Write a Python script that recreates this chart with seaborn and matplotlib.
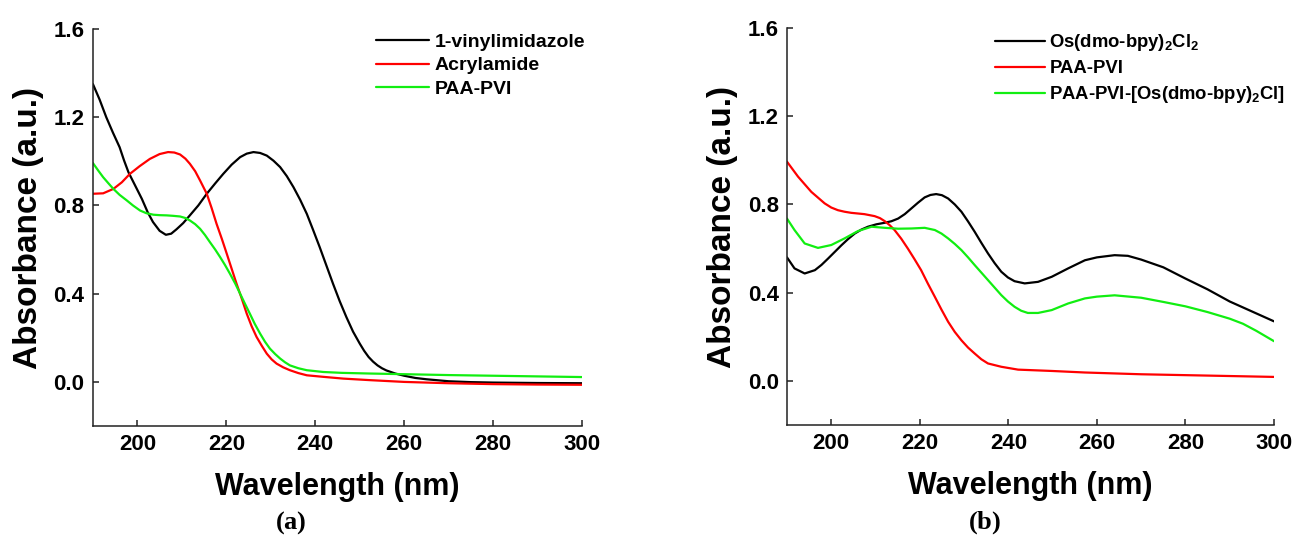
import numpy as np
import pandas as pd
import matplotlib
matplotlib.use("Agg")
import matplotlib.pyplot as plt
import seaborn as sns

# ---------------- data ----------------
# Panel (a)
a_vinyl_x = [190, 191.5, 193, 194.5, 196, 197, 198, 199, 200, 201, 202.3, 203.5, 205, 206.4, 207.6, 208.8,
             210.3, 211.8, 213.7, 215.6, 217.5, 219.3, 221.2, 223.1, 224.6, 226.1, 227.6, 229.1,
             230.6, 232.1, 233.6, 235.1, 236.6, 238.1, 239.5, 241, 242.5, 244, 245.5, 247, 248.5,
             250, 251, 252, 253, 254, 255, 256, 258, 260, 262.5, 265, 270, 275, 280, 290, 300]
a_vinyl_y = [1.35, 1.28, 1.20, 1.13, 1.064, 1.004, 0.95, 0.91, 0.87, 0.83, 0.77, 0.725, 0.685, 0.667,
             0.672, 0.692, 0.72, 0.755, 0.80, 0.853, 0.90, 0.943, 0.985, 1.019, 1.035, 1.042, 1.038,
             1.026, 1.003, 0.974, 0.933, 0.883, 0.826, 0.762, 0.69, 0.611, 0.528, 0.445, 0.366,
             0.294, 0.228, 0.174, 0.141, 0.113, 0.092, 0.075, 0.062, 0.052, 0.038, 0.028, 0.018,
             0.012, 0.003, -0.001, -0.003, -0.005, -0.006]

a_acryl_x = [190, 192.3, 194.6, 196.5, 198.3, 200.5, 202.8, 205, 206.9, 208.3, 209.6, 210.8, 211.8,
             213, 214.1, 215.6, 216.7, 217.8, 219, 220.1, 221.2, 222.3, 223.5, 224.6, 225.7, 226.8,
             228, 229.1, 230.2, 231.3, 232.8, 234.3, 236.2, 238.1, 241.8, 246.3, 252.3, 260, 270,
             280, 290, 300]
a_acryl_y = [0.853, 0.855, 0.875, 0.905, 0.943, 0.978, 1.011, 1.033, 1.042, 1.04, 1.031, 1.012, 0.989,
             0.955, 0.913, 0.853, 0.788, 0.717, 0.648, 0.581, 0.513, 0.445, 0.376, 0.309, 0.252,
             0.204, 0.163, 0.128, 0.102, 0.083, 0.066, 0.053, 0.040, 0.030, 0.023, 0.015, 0.008,
             0.0, -0.006, -0.010, -0.012, -0.013]

a_paapvi_x = [190, 191.2, 192.3, 193.5, 194.6, 196, 197.6, 199, 200.6, 202, 203.6, 205, 206.6, 208,
              209.6, 210.8, 211.8, 213, 214.1, 215.2, 216.3, 217.5, 218.6, 219.7, 220.8, 222, 223.1,
              224.2, 225.3, 226.4, 227.6, 228.7, 229.8, 231, 232.1, 233.2, 234.3, 236.2, 238.1,
              241.8, 246, 252.3, 260, 270, 280, 290, 300]
a_paapvi_y = [0.992, 0.958, 0.928, 0.900, 0.875, 0.848, 0.823, 0.800, 0.777, 0.765, 0.758, 0.756, 0.755,
              0.753, 0.750, 0.743, 0.732, 0.715, 0.694, 0.666, 0.634, 0.600, 0.566, 0.530, 0.491,
              0.446, 0.400, 0.354, 0.309, 0.263, 0.219, 0.182, 0.151, 0.126, 0.106, 0.089, 0.075,
              0.062, 0.053, 0.045, 0.041, 0.038, 0.035, 0.031, 0.028, 0.025, 0.022]

# Panel (b)
b_os_x = [190, 191.7, 194, 196.3, 197.8, 199.3, 200.8, 202.3, 203.8, 205.3, 206.8, 208.3, 210.2, 212.1,
          213.6, 215.1, 216.6, 218.1, 219.6, 221.1, 222.4, 223.7, 225, 226.4, 227.9, 229.4, 230.9,
          232.4, 233.9, 235.4, 236.9, 238.4, 239.9, 241.4, 243.7, 246.7, 249.8, 253.5, 257.3, 260,
          264, 267, 270, 275, 280, 285, 290, 295, 300]
b_os_y = [0.560, 0.510, 0.487, 0.502, 0.526, 0.555, 0.585, 0.615, 0.643, 0.668, 0.686, 0.699, 0.710,
          0.717, 0.724, 0.736, 0.756, 0.782, 0.808, 0.832, 0.843, 0.847, 0.842, 0.827, 0.800, 0.767,
          0.723, 0.676, 0.626, 0.578, 0.534, 0.495, 0.469, 0.452, 0.442, 0.449, 0.472, 0.510,
          0.547, 0.560, 0.570, 0.567, 0.550, 0.515, 0.464, 0.415, 0.360, 0.315, 0.270]

b_paapvi_x = [190, 192.5, 195.5, 198.5, 200, 201.5, 203, 204.5, 206, 207.5, 209.8, 211, 212.1, 213.2,
              214.3, 215.8, 217.3, 218.8, 220.3, 221.8, 223.4, 224.9, 226.4, 227.9, 229.4, 230.9,
              232.4, 233.9, 235.4, 238.4, 242.2, 249.8, 257.3, 270, 280, 290, 300]
b_paapvi_y = [0.994, 0.926, 0.857, 0.805, 0.786, 0.774, 0.767, 0.762, 0.759, 0.756, 0.747, 0.738, 0.724,
              0.706, 0.684, 0.645, 0.600, 0.552, 0.502, 0.442, 0.381, 0.323, 0.268, 0.222, 0.184,
              0.151, 0.124, 0.098, 0.079, 0.064, 0.051, 0.045, 0.038, 0.030, 0.026, 0.022, 0.018]

b_complex_x = [190, 191.7, 194, 197, 200, 203, 206, 209.1, 212.1, 215.1, 218.1, 221.1, 223.4, 224.9,
               226.4, 227.9, 229.4, 230.9, 232.4, 233.9, 235.4, 236.9, 238.4, 239.9, 241.4, 242.9,
               244.4, 246.7, 249.8, 253.5, 257.3, 260, 264, 270, 275, 280, 285, 290, 293, 296, 300]
b_complex_y = [0.736, 0.684, 0.623, 0.603, 0.616, 0.646, 0.679, 0.699, 0.694, 0.690, 0.691, 0.694,
               0.684, 0.668, 0.646, 0.621, 0.593, 0.560, 0.525, 0.491, 0.457, 0.423, 0.389, 0.360,
               0.336, 0.318, 0.308, 0.308, 0.321, 0.351, 0.374, 0.382, 0.388, 0.377, 0.358, 0.338,
               0.312, 0.282, 0.259, 0.227, 0.180]

labels_a = ["1-vinylimidazole", "Acrylamide", "PAA-PVI"]
labels_b = ["Os(dmo-bpy)$_2$Cl$_2$", "PAA-PVI", "PAA-PVI-[Os(dmo-bpy)$_2$Cl]"]
colors = ["#000000", "#ff0000", "#11ee11"]
x_ticks = [200, 220, 240, 260, 280, 300]
y_ticks = [0.0, 0.4, 0.8, 1.2, 1.6]

# ---------------- style ----------------
sns.set_theme(style="ticks")
plt.rcParams["font.family"] = ["Liberation Sans", "DejaVu Sans"]
plt.rcParams["font.weight"] = "bold"
plt.rcParams["text.color"] = "black"
plt.rcParams["axes.labelcolor"] = "black"
plt.rcParams["xtick.labelcolor"] = "black"
plt.rcParams["ytick.labelcolor"] = "black"
plt.rcParams["mathtext.default"] = "regular"
plt.rcParams["mathtext.fontset"] = "custom"
plt.rcParams["mathtext.rm"] = "Liberation Serif"
plt.rcParams["mathtext.bf"] = "Liberation Serif:bold"

fig = plt.figure(figsize=(12.98, 5.45), dpi=100)
ax_a = fig.add_axes([0.0716, 0.2183, 0.3768, 0.7285])
ax_b = fig.add_axes([0.6063, 0.2202, 0.3752, 0.7284])


def draw(ax, series, labels, leg_x, leg_y, spacing, leg_size, hpad):
    for (xs, ys), lab, col in zip(series, labels, colors):
        df = pd.DataFrame({"x": xs, "y": ys})
        sns.lineplot(data=df, x="x", y="y", ax=ax, color=col, lw=1.6, label=lab,
                     estimator=None, sort=False)
    ax.set_xlim(190, 300)
    ax.set_ylim(-0.2, 1.6)
    ax.set_xticks(x_ticks)
    ax.set_yticks(y_ticks)
    ax.set_yticklabels([f"{v:.1f}" for v in y_ticks])
    for s in ["top", "right"]:
        ax.spines[s].set_visible(False)
    for s in ["left", "bottom"]:
        ax.spines[s].set_linewidth(1.1)
        ax.spines[s].set_color("#222222")
    ax.tick_params(direction="in", length=4, width=1.1, color="#222222",
                   labelsize=16, pad=6, labelcolor="black")
    for t in ax.get_xticklabels() + ax.get_yticklabels():
        t.set_fontweight("bold")
    ax.set_xlabel("Wavelength (nm)", fontsize=22, fontweight="bold", labelpad=12)
    ax.set_ylabel("Absorbance (a.u.)", fontsize=24, fontweight="bold", labelpad=7)
    leg = ax.legend(loc="upper left", bbox_to_anchor=(leg_x, leg_y), frameon=False,
                    handlelength=2.7, handletextpad=hpad, labelspacing=spacing,
                    borderaxespad=0, borderpad=0,
                    prop={"family": "Liberation Sans", "weight": "bold", "size": leg_size})
    for line in leg.get_lines():
        line.set_linewidth(1.6)


draw(ax_a, [(a_vinyl_x, a_vinyl_y), (a_acryl_x, a_acryl_y), (a_paapvi_x, a_paapvi_y)],
     labels_a, 0.579, 0.99, 0.32, 14, 0.3)
draw(ax_b, [(b_os_x, b_os_y), (b_paapvi_x, b_paapvi_y), (b_complex_x, b_complex_y)],
     labels_b, 0.427, 0.99, 0.38, 13.3, 0.25)

fig.text(291 / 1298, 1 - 523 / 545, r"$\mathrm{(}\mathbf{a}\mathrm{)}$", ha="center", va="center",
         fontsize=19)
fig.text(985 / 1298, 1 - 523 / 545, r"$\mathrm{(}\mathbf{b}\mathrm{)}$", ha="center", va="center",
         fontsize=19)

fig.savefig("out.png", dpi=100)
